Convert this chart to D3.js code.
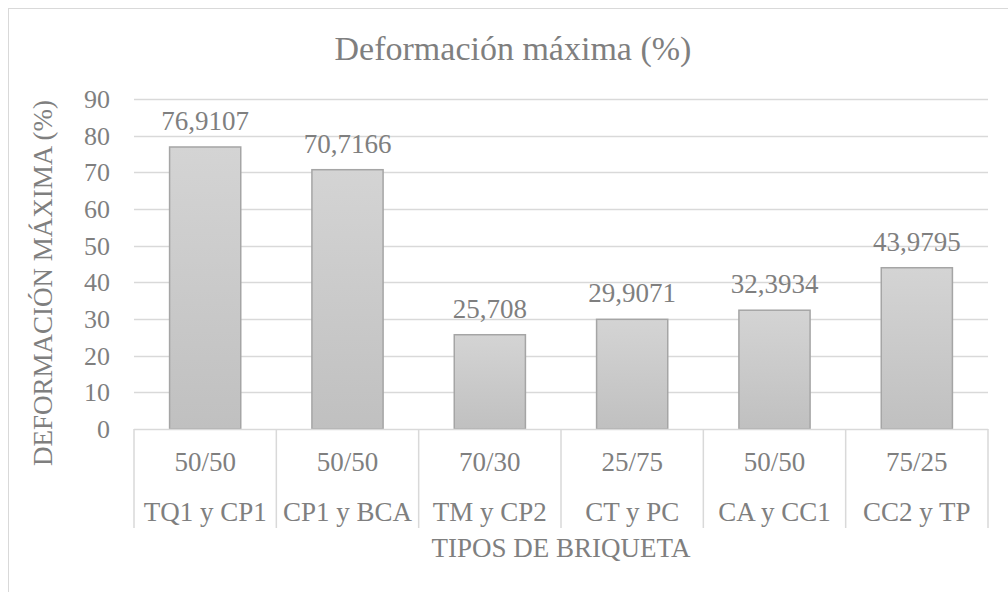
<!DOCTYPE html>
<html>
  <head>
    <meta charset="utf-8" />
    <title>Deformación máxima</title>
    <script src="https://d3js.org/d3.v7.min.js"></script>
  </head>
  <body style="margin:0">
    <svg width="1008" height="592" style="font-family: Liberation Serif"></svg>

    <script>
      // Data
      var names = ["TQ1 y CP1", "CP1 y BCA", "TM y CP2", "CT y PC", "CA y CC1", "CC2 y TP"];
      var ratios = ["50/50", "50/50", "70/30", "25/75", "50/50", "75/25"];
      var values = [76.9107, 70.7166, 25.708, 29.9071, 32.3934, 43.9795];
      var yTicks = [0, 10, 20, 30, 40, 50, 60, 70, 80, 90];

      var TXT = "#7f7f7f";
      var FONT = "Liberation Serif";

      var svg = d3.select("svg");

      // chart border (runs off the page on the right / bottom)
      svg.append("rect")
        .attr("x", 8.5).attr("y", 8.5)
        .attr("width", 1100).attr("height", 700)
        .attr("fill", "none")
        .attr("stroke", "#d9d9d9");

      var margin = { top: 99, left: 134 },
        width = 988 - margin.left,
        height = 429 - margin.top;

      var x = d3.scaleBand().domain(d3.range(names.length)).range([0, width]).padding(0);
      var y = d3.scaleLinear().domain([0, 90]).range([height, 0]);

      var grad = svg.append("defs").append("linearGradient")
        .attr("id", "barGrad")
        .attr("x1", 0).attr("y1", 0).attr("x2", 0).attr("y2", 1);
      grad.append("stop").attr("offset", "0%").attr("stop-color", "#d4d4d4");
      grad.append("stop").attr("offset", "100%").attr("stop-color", "#c0c0c0");

      var g = svg.append("g").attr("transform", "translate(" + margin.left + "," + margin.top + ")");

      // gridlines
      g.selectAll(".grid")
        .data(yTicks.slice(1))
        .enter()
        .append("line")
        .attr("x1", 0).attr("x2", width)
        .attr("y1", function (d) { return Math.round(y(d)) + 0.5; })
        .attr("y2", function (d) { return Math.round(y(d)) + 0.5; })
        .attr("stroke", "#d9d9d9")
        .attr("stroke-width", 1.5);

      // y axis labels, drawn as plain text from the scale
      g.selectAll(".ytick")
        .data(yTicks)
        .enter()
        .append("text")
        .attr("class", "ytick")
        .attr("text-anchor", "end")
        .attr("x", -24)
        .attr("y", function (d) { return y(d); })
        .attr("dy", "0.35em")
        .text(function (d) { return d; });

      // bars
      var bw = x.bandwidth() * 0.5;
      g.selectAll(".bar")
        .data(values)
        .enter()
        .append("rect")
        .attr("class", "bar")
        .attr("x", function (d, i) { return x(i) + (x.bandwidth() - bw) / 2; })
        .attr("y", function (d) { return y(d); })
        .attr("width", bw)
        .attr("height", function (d) { return height - y(d); })
        .attr("fill", "url(#barGrad)")
        .attr("stroke", "#a5a5a5")
        .attr("stroke-width", 1.5);

      // value labels
      g.selectAll(".val")
        .data(values)
        .enter()
        .append("text")
        .attr("class", "val")
        .attr("text-anchor", "middle")
        .attr("x", function (d, i) { return x(i) + x.bandwidth() / 2; })
        .attr("y", function (d) { return y(d) - 17; })
        .text(function (d) { return String(d).replace(".", ","); });

      // category axis (two levels)
      var axisH = 99;
      g.append("line")
        .attr("x1", 0).attr("x2", width)
        .attr("y1", height + 0.5).attr("y2", height + 0.5)
        .attr("stroke", "#d9d9d9").attr("stroke-width", 1.5);

      g.selectAll(".div")
        .data(d3.range(names.length + 1))
        .enter()
        .append("line")
        .attr("x1", function (i) { return i < names.length ? x(i) : width; })
        .attr("x2", function (i) { return i < names.length ? x(i) : width; })
        .attr("y1", height).attr("y2", height + axisH)
        .attr("stroke", "#d9d9d9").attr("stroke-width", 1.5);

      g.selectAll(".ratio")
        .data(ratios)
        .enter()
        .append("text")
        .attr("text-anchor", "middle")
        .attr("x", function (d, i) { return x(i) + x.bandwidth() / 2; })
        .attr("y", height + 33)
        .attr("dy", "0.35em")
        .text(function (d) { return d; });

      g.selectAll(".name")
        .data(names)
        .enter()
        .append("text")
        .attr("text-anchor", "middle")
        .attr("x", function (d, i) { return x(i) + x.bandwidth() / 2; })
        .attr("y", height + 83)
        .attr("dy", "0.35em")
        .text(function (d) { return d; });

      // axis titles
      svg.append("text")
        .attr("text-anchor", "middle")
        .attr("x", margin.left + width / 2)
        .attr("y", 548)
        .attr("dy", "0.35em")
        .text("TIPOS DE BRIQUETA");

      svg.append("text")
        .attr("text-anchor", "middle")
        .attr("transform", "translate(43,283) rotate(-90)")
        .attr("dy", "0.35em")
        .text("DEFORMACIÓN MÁXIMA (%)");

      // title
      svg.append("text")
        .attr("class", "title")
        .attr("text-anchor", "middle")
        .attr("x", 513)
        .attr("y", 60)
        .text("Deformación máxima (%)");

      // shared text style
      svg.selectAll("text")
        .attr("font-family", FONT)
        .attr("font-size", 27)
        .attr("fill", TXT);
      svg.selectAll(".ytick").attr("font-size", 26);
      svg.select(".title").attr("font-size", 34);
    </script>
  </body>
</html>
